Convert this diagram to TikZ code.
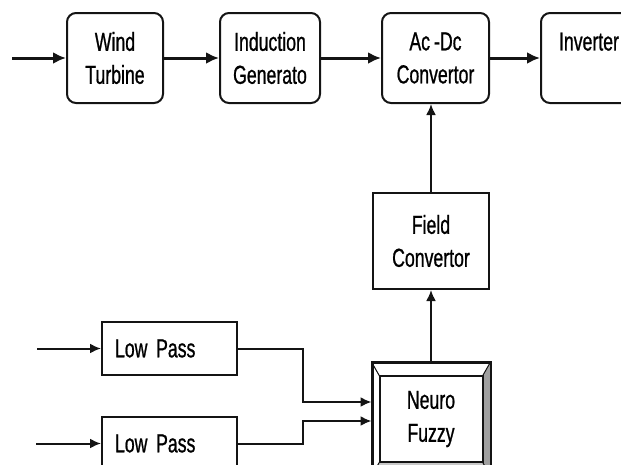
\documentclass[tikz,border=0pt]{standalone}
\usepackage{fontspec}
\newfontfamily\narrowfont{Liberation Sans}[FakeStretch=0.68, FakeBold=0.8]
\newcommand\boxfont{\narrowfont\fontsize{26}{33}\selectfont\spaceskip=4pt\relax}
\usetikzlibrary{arrows.meta, positioning, calc}
\definecolor{bevelside}{RGB}{160,160,160}
\definecolor{bevelbase}{RGB}{200,200,200}
\definecolor{linegray}{RGB}{20,20,20}
\tikzset{
  stage/.style={
    rectangle, rounded corners=9pt,
    draw=linegray, line width=2pt, fill=white,
    minimum width=#1, minimum height=90pt,
    font=\boxfont,
    text centered, align=center, inner sep=2pt
  },
  stage/.default=100pt,
  plainbox/.style={
    rectangle,
    draw=linegray, line width=2pt, fill=white,
    font=\boxfont,
    align=center, inner sep=2pt
  },
  filterbox/.style={
    plainbox, minimum width=135pt, minimum height=53pt,
    text width=109pt, align=left, inner xsep=13pt
  },
  flow/.style={-{Latex[length=13pt,width=12pt]}, line width=3pt, color=linegray},
  thinflow/.style={-{Latex[length=11pt,width=10pt]}, line width=2pt, color=linegray}
}

\begin{document}
\begin{tikzpicture}[x=1pt, y=-1pt]

\clip (0,0) rectangle (621,464);

% ═══════════════════════════════════════════════════════════════════
% TOP ROW — POWER CHAIN
% ═══════════════════════════════════════════════════════════════════

\coordinate (windin) at (12,58);

\node[stage=96pt] (wind) at (115,58) {Wind\\Turbine};

\node[stage=100pt, right=55pt of wind]
  (induct) {Induction\\Generato};

\node[stage=107pt, right=60pt of induct]
  (acdc) {Ac -Dc\\Convertor};

\node[stage=120pt, right=50pt of acdc,
      text width=84pt, align=left, inner xsep=18pt]
  (inverter) {Inverter\\\mbox{}};

% ═══════════════════════════════════════════════════════════════════
% CONTROL PATH
% ═══════════════════════════════════════════════════════════════════

\node[plainbox, minimum width=116pt, minimum height=96pt,
      below=88pt of acdc, xshift=-4.5pt]
  (field) {Field\\Convertor};

\node[plainbox, minimum width=117pt, minimum height=112pt,
      below=72pt of field]
  (neuro) {Neuro\\Fuzzy};

% ── bevel of the neuro fuzzy block ───────────────────────────────
\coordinate (nfnw) at ($(neuro.north west)+(8,14)$);
\coordinate (nfne) at ($(neuro.north east)+(-8,14)$);
\coordinate (nfse) at ($(neuro.south east)+(-8,-14)$);
\coordinate (nfsw) at ($(neuro.south west)+(8,-14)$);

\fill[bevelside] (neuro.north east) -- (neuro.south east)
  -- (nfse) -- (nfne) -- cycle;
\fill[bevelbase] (neuro.south west) -- (neuro.south east)
  -- (nfse) -- (nfsw) -- cycle;
\draw[linegray, line width=1pt]
  (neuro.north west) -- (nfnw)
  (neuro.north east) -- (nfne)
  (neuro.south east) -- (nfse)
  (neuro.south west) -- (nfsw);
\draw[linegray, line width=2pt] (nfnw) rectangle (nfse);
\draw[linegray, line width=2pt] (neuro.north west) rectangle (neuro.south east);

% ── low pass filters ─────────────────────────────────────────────
\node[filterbox] (lowpass1) at (169.5,348.5) {Low Pass};

\node[filterbox, below=40pt of lowpass1]
  (lowpass2) {Low Pass};

\coordinate (lpin1) at (37,348.5);
\coordinate (lpin2) at ($(lowpass2.west)+(-65,0)$);

% ═══════════════════════════════════════════════════════════════════
% FLOWS
% ═══════════════════════════════════════════════════════════════════

% Power chain
\draw[flow] (windin) -- (wind);
\draw[flow] (wind)   -- (induct);
\draw[flow] (induct) -- (acdc);
\draw[flow] (acdc)   -- (inverter);

% Control feedback
\draw[thinflow] (neuro.north) -- (field.south);
\draw[thinflow] (field.north) -- (field.north |- acdc.south);

% Filter inputs
\draw[thinflow] (lpin1) -- (lowpass1.west);
\draw[thinflow] (lpin2) -- (lowpass2.west);

% Filters → neuro fuzzy
\draw[thinflow] (lowpass1.east)
  -- ++(65,0)
  |- ([yshift=17pt]neuro.west);
\draw[thinflow] (lowpass2.east)
  -- ++(65,0)
  |- ([yshift=-2pt]neuro.west);

\end{tikzpicture}
\end{document}
